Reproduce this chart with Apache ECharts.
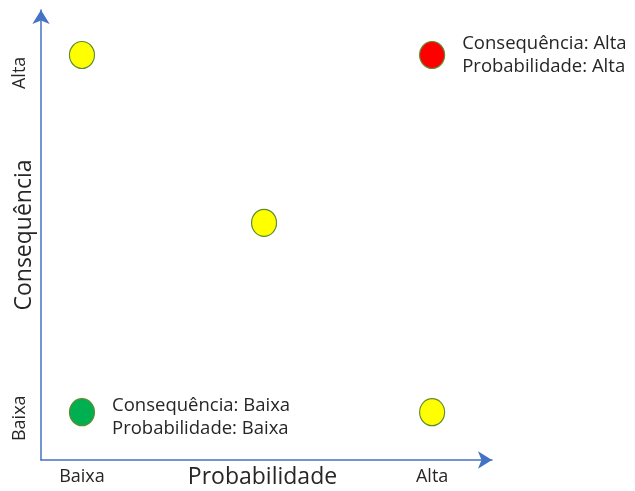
<!DOCTYPE html>
<html><head><meta charset="utf-8">
<script src="https://cdn.jsdelivr.net/npm/echarts@6/dist/echarts.min.js"></script>
<style>html,body{margin:0;padding:0;background:#fff}#c{width:635px;height:491px}</style>
</head><body><div id="c"></div>
<script>
// Data
const xTickLabels = ['Baixa', 'Alta'];
const yTickLabels = ['Baixa', 'Alta'];
const xTickValues = [0, 1];
const yTickValues = [-0.017, 0.95];
const pointX = [0, 1, 0.52, 0, 1];
const pointY = [1, 1, 0.53, 0, 0];
const pointColors = ['#FFFF00', '#FF0000', '#FFFF00', '#00B050', '#FFFF00'];
const pointLabels = ['', 'Consequência: Alta\nProbabilidade: Alta', '', 'Consequência: Baixa\nProbabilidade: Baixa', ''];
const xName = 'Probabilidade';
const yName = 'Consequência';

const axisColor = '#4472C4';
const font = 'Open Sans, Noto Sans, sans-serif';
const textColor = '#262626';
const chart = echarts.init(document.getElementById('c'));
chart.setOption({
  animation: false,
  grid: { left: 41, right: 143, top: 10, bottom: 31, containLabel: false, outerBoundsMode: 'none' },
  xAxis: {
    type: 'value', min: -0.117, max: 1.171,
    splitLine: { show: false },
    axisLine: { onZero: false, lineStyle: { color: axisColor, width: 1.5 }, symbol: ['none', 'arrow'], symbolSize: [13, 14] },
    axisTick: { show: false },
    axisLabel: { customValues: xTickValues, formatter: v => xTickLabels[xTickValues.indexOf(v)] || '', color: textColor, fontSize: 18, fontFamily: font, margin: 8 },
    name: xName, nameLocation: 'middle', nameGap: 6, nameMoveOverlap: false,
    nameTextStyle: { fontSize: 23, color: textColor, fontFamily: font, padding: [0, 8, 0, 0] }
  },
  yAxis: {
    type: 'value', min: -0.134, max: 1.126,
    splitLine: { show: false },
    axisLine: { onZero: false, lineStyle: { color: axisColor, width: 1.5 }, symbol: ['none', 'arrow'], symbolSize: [13, 14] },
    axisTick: { show: false },
    axisLabel: { customValues: yTickValues, formatter: v => yTickLabels[yTickValues.indexOf(v)] || '', rotate: 90, color: textColor, fontSize: 18, fontFamily: font, margin: 12 },
    name: yName, nameLocation: 'middle', nameGap: 5, nameMoveOverlap: false,
    nameTextStyle: { fontSize: 23, color: textColor, fontFamily: font }
  },
  series: [{
    type: 'scatter',
    symbolSize: [25, 27],
    data: pointX.map((x, i) => ({
      value: [x, pointY[i]],
      itemStyle: { color: pointColors[i], borderColor: '#5E8C2E', borderWidth: 1.2, opacity: 1 },
      label: { show: !!pointLabels[i], formatter: pointLabels[i], position: 'right', distance: 17, offset: [0, i === 3 ? 5 : 0], color: textColor, fontSize: 18.5, lineHeight: 23, fontFamily: font, align: 'left' }
    }))
  }]
});
</script></body></html>
